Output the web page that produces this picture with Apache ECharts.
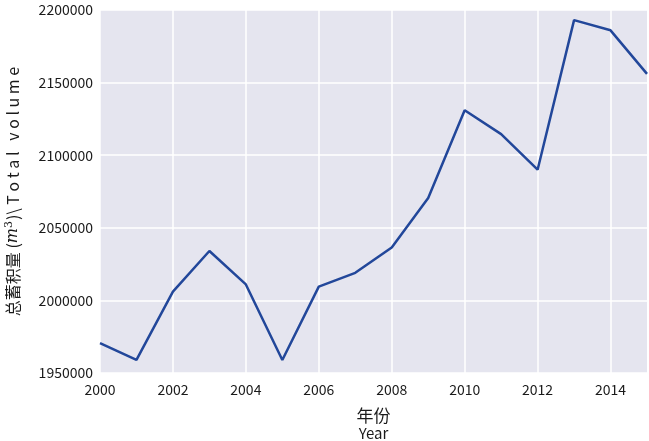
<!DOCTYPE html>
<html>
<head>
	<meta charset="utf-8">
	<title>总蓄积量</title>
	<style>
		html, body { margin: 0; padding: 0; background: #fff; }
	</style>
</head>
<body>
<script type="text/javascript" src="https://cdn.jsdelivr.net/npm/echarts@6/dist/echarts.min.js"></script>
<div id="chart" style="width:649px;height:441px;"></div>
<script>
// 年份 / 总蓄积量
var years = ['2000','2001','2002','2003','2004','2005','2006','2007',
             '2008','2009','2010','2011','2012','2013','2014','2015'];
var volume = [1970500, 1959000, 2006000, 2034000, 2011000, 1959000, 2009500, 2019000,
              2036500, 2070500, 2131000, 2114500, 2090000, 2193000, 2186000, 2156000];
var yMin = 1950000, yMax = 2200000, yStep = 50000;

var font = '"Noto Sans CJK SC", "DejaVu Sans", sans-serif';
var myChart = echarts.init(document.getElementById('chart'));
var option = {
    animation: false,
    grid: {
        left: 100, right: 2, top: 10, bottom: 68,
        outerBoundsMode: 'none',
        containLabel: false,
        show: true,
        backgroundColor: '#e5e5ef',
        borderWidth: 0
    },
    xAxis: {
        type: 'category',
        data: years,
        boundaryGap: false,
        axisLine: { show: false },
        axisTick: { show: false },
        axisLabel: { interval: 1, color: '#1a1a1a', fontSize: 14, fontFamily: font, margin: 10 },
        splitLine: { show: true, interval: 1, lineStyle: { color: '#fff', width: 1.5 } },
        name: '{a|年份}\n{b|Year}',
        nameLocation: 'middle',
        nameGap: 33,
        nameTextStyle: {
            rich: {
                a: { fontSize: 17, fontFamily: font, color: '#1a1a1a', lineHeight: 19 },
                b: { fontSize: 15, fontFamily: font, color: '#1a1a1a', lineHeight: 17 }
            }
        }
    },
    yAxis: {
        type: 'value',
        min: yMin, max: yMax, interval: yStep,
        axisLine: { show: false },
        axisTick: { show: false },
        axisLabel: {
            color: '#1a1a1a', fontSize: 14, fontFamily: font, margin: 7,
            formatter: function (v) { return String(v); }
        },
        splitLine: { show: true, lineStyle: { color: '#fff', width: 1.5 } },
        name: '{t|总蓄积量 (}{i|m}{s|3}{t|)\\ T o t a l   v o l u m e}',
        nameLocation: 'middle',
        nameRotate: 90,
        nameGap: 79,
        nameTextStyle: {
            rich: {
                t: { fontSize: 16, fontFamily: font, color: '#1a1a1a' },
                i: { fontSize: 16, fontFamily: 'DejaVu Serif', fontStyle: 'italic', color: '#1a1a1a' },
                s: { fontSize: 11, fontFamily: 'DejaVu Serif', color: '#1a1a1a', verticalAlign: 'top', padding: [0, 1, 6, 0] }
            }
        }
    },
    series: [{
        type: 'line',
        data: volume,
        symbol: 'none',
        lineStyle: { color: '#22479a', width: 2.5 }
    }]
};
myChart.setOption(option);
</script>
</body>
</html>
